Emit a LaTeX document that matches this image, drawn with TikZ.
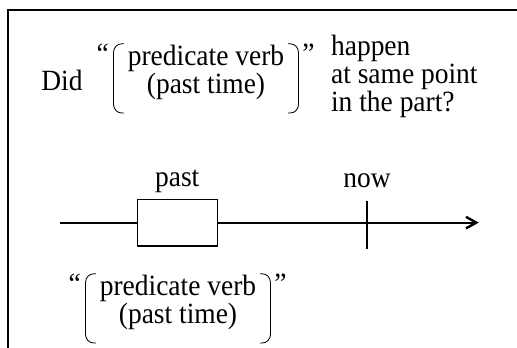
\documentclass[tikz,border=0pt]{standalone}
\usepackage{fontspec}
\setmainfont{Liberation Serif}[FakeStretch=0.935]
\usetikzlibrary{positioning,arrows.meta}
\tikzset{
    txt/.style={inner sep=0pt,font=\fontsize{20.9}{20}\selectfont},
    brk/.style={line width=0.6pt,rounded corners=6pt},
    thickline/.style={line width=1.4pt}
}
\begin{document}
\begin{tikzpicture}[>={Straight Barb[length=2.6mm,width=2.9mm,line width=1.7pt]}]
    \useasboundingbox (0,0) rectangle (12.925,8.675);
    \draw[line width=1.8pt] (0.2,-0.2) -- (0.2,8.425) -- (13.1,8.425);%左边和上边的框线
    \node[txt,anchor=base] (did) at (1.55,6.425) {Did};
    \node[txt,align=center] (verb1) at (5.15,6.86) {predicate verb\\(past time)};
    \node[txt,align=left,anchor=north west] (happen) at (8.27,7.8) {happen\\at same point\\in the part?};
    \draw[brk] ([xshift=-0.09cm,yshift=0.03cm]verb1.north west) -- ([xshift=-0.35cm,yshift=0.03cm]verb1.north west)
        -- ([xshift=-0.35cm,yshift=-0.32cm]verb1.south west) -- ([xshift=-0.09cm,yshift=-0.32cm]verb1.south west);%左括号
    \draw[brk] ([xshift=0.09cm,yshift=0.03cm]verb1.north east) -- ([xshift=0.35cm,yshift=0.03cm]verb1.north east)
        -- ([xshift=0.35cm,yshift=-0.32cm]verb1.south east) -- ([xshift=0.09cm,yshift=-0.32cm]verb1.south east);%右括号
    \node[txt,anchor=north] (oq1) at ([xshift=-0.62cm,yshift=0.03cm]verb1.north west) {“};
    \node[txt,anchor=north] (cq1) at ([xshift=0.6cm,yshift=0.03cm]verb1.north east) {”};
    % 时间轴
    \coordinate (tstart) at (1.5,3.11);
    \coordinate (tend) at (11.97,3.11);
    \node[draw,line width=0.9pt,minimum width=2cm,minimum height=1.17cm] (pastbox) at (4.43,3.11) {};
    \draw[thickline] (tstart) -- (pastbox);
    \draw[thickline,->] (pastbox) -- (tend);
    \node[txt,above=0.14cm of pastbox] (past) {past};
    \coordinate (nowtop) at (9.175,3.66);
    \coordinate (nowbot) at (9.175,2.45);
    \draw[thickline] (nowtop) -- (nowbot);%现在的刻度
    \node[txt,above=0.31cm of nowtop] (now) {now};
    % 下面的谓语
    \node[txt,align=center] (verb2) at (4.45,1.11) {predicate verb\\(past time)};
    \draw[brk] ([xshift=-0.09cm,yshift=0.03cm]verb2.north west) -- ([xshift=-0.35cm,yshift=0.03cm]verb2.north west)
        -- ([xshift=-0.35cm,yshift=-0.32cm]verb2.south west) -- ([xshift=-0.09cm,yshift=-0.32cm]verb2.south west);
    \draw[brk] ([xshift=0.09cm,yshift=0.03cm]verb2.north east) -- ([xshift=0.35cm,yshift=0.03cm]verb2.north east)
        -- ([xshift=0.35cm,yshift=-0.32cm]verb2.south east) -- ([xshift=0.09cm,yshift=-0.32cm]verb2.south east);
    \node[txt,anchor=north] (oq2) at ([xshift=-0.62cm,yshift=0.03cm]verb2.north west) {“};
    \node[txt,anchor=north] (cq2) at ([xshift=0.6cm,yshift=0.03cm]verb2.north east) {”};
\end{tikzpicture}
\end{document}
